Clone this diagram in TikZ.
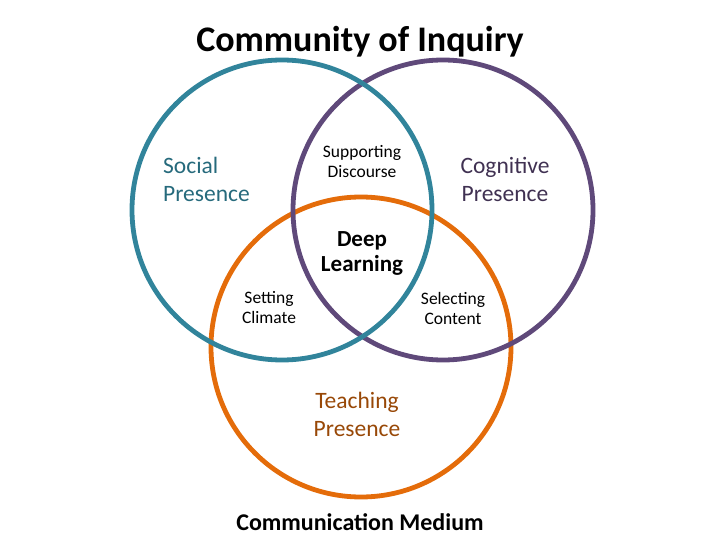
\documentclass[tikz,border=0pt]{standalone}
\usepackage{fontspec}
\setmainfont{Carlito}
\definecolor{socialc}{HTML}{31849B}
\definecolor{cognc}{HTML}{5F497A}
\definecolor{teachc}{HTML}{E46C0A}
\definecolor{socialt}{HTML}{266A7C}
\definecolor{cognt}{HTML}{403152}
\definecolor{teacht}{HTML}{984807}
\begin{document}
\begin{tikzpicture}[x=1pt,y=-1pt,
  ring/.style={line width=4.8pt},
  big/.style={font=\fontsize{23.5}{28}\selectfont, align=center, inner sep=0pt},
  small/.style={font=\fontsize{17.5}{20}\selectfont, align=center, inner sep=0pt}]
\useasboundingbox (0,0) rectangle (720,540);
\draw[ring, teachc] (361,347) circle (150);
\draw[ring, cognc] (443,210) circle (150);
\draw[ring, socialc] (282,210) circle (150);
\node[inner sep=0pt, font=\fontsize{36}{40}\selectfont\bfseries] (title) at (360,42) {Community of Inquiry};
\node[big, text=socialt, align=left, anchor=west] (social) at (163,179) {Social\\Presence};
\node[big, text=cognt] (cogn) at (505,179) {Cognitive\\Presence};
\node[big, text=teacht] (teach) at (357,414) {Teaching\\Presence};
\node[small] (supp) at (362,162) {Supporting\\Discourse};
\node[big, font=\fontsize{23}{25}\selectfont\bfseries] (deep) at (362,253) {Deep\\Learning};
\node[small] (sett) at (269,308) {Setting\\Climate};
\node[small] (sel) at (453,308) {Selecting\\Content};
\node[inner sep=0pt, font=\fontsize{24}{27}\selectfont\bfseries] (medium) at (360,522) {Communication Medium};
\end{tikzpicture}
\end{document}
